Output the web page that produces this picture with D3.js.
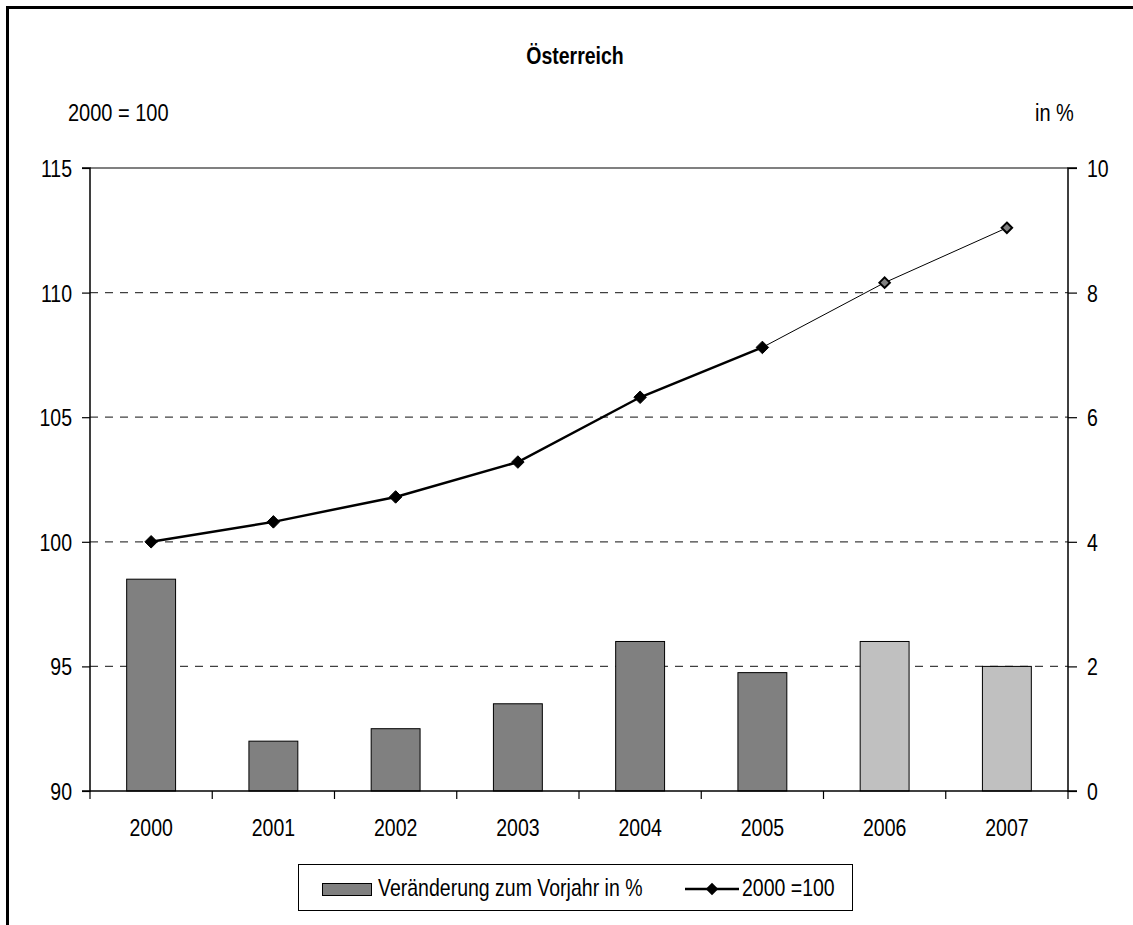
<!DOCTYPE html>
<html>
<head>
<meta charset="utf-8">
<script src="https://cdn.jsdelivr.net/npm/d3@7"></script>
<style>
  html, body { margin: 0; padding: 0; background: #fff; }
  svg { display: block; }
  text { font-family: "Liberation Sans", Arial, sans-serif; fill: #000; }
</style>
</head>
<body>
<svg id="chart" width="1133" height="925"></svg>
<script>
// Jahre
const years = ["2000", "2001", "2002", "2003", "2004", "2005", "2006", "2007"];
// Veränderung zum Vorjahr in %
const changePct = [3.4, 0.8, 1.0, 1.4, 2.4, 1.9, 2.4, 2.0];
// Index 2000 = 100
const indexValues = [100.0, 100.8, 101.8, 103.2, 105.8, 107.8, 110.4, 112.6];
// Prognosejahre (hellere Balken, dünnere Linie)
const forecast = [false, false, false, false, false, false, true, true];
const leftTicks = [90, 95, 100, 105, 110, 115];
const rightTicks = [0, 2, 4, 6, 8, 10];
const gridValues = [95, 100, 105, 110];

const svg = d3.select("#chart");
const W = 1133, H = 925;
const plot = { left: 90, right: 1068, top: 168, bottom: 791 };
const TEXT_SY = 1.22;   // vertically stretched lettering

// outer frame: top and left edges only
svg.append("path")
  .attr("d", `M7.5,${H} V7.5 H${W}`)
  .attr("fill", "none").attr("stroke", "#000").attr("stroke-width", 3);

const x = d3.scaleBand().domain(years).range([plot.left, plot.right]).padding(0);
const yL = d3.scaleLinear().domain([90, 115]).range([plot.bottom, plot.top]);
const yR = d3.scaleLinear().domain([0, 10]).range([plot.bottom, plot.top]);

function stretchedText(sel) {
  sel.each(function () {
    const t = d3.select(this);
    const tx = +t.attr("x") || 0, ty = +t.attr("y") || 0;
    t.attr("x", 0).attr("y", 0)
      .attr("transform", `translate(${tx},${ty}) scale(1,${TEXT_SY})`);
  });
}

// title and axis captions
svg.append("text").attr("x", 575).attr("y", 64).attr("text-anchor", "middle")
  .attr("font-size", 19.5).attr("font-weight", "bold").text("Österreich")
  .call(stretchedText);
svg.append("text").attr("x", 68).attr("y", 121).attr("font-size", 20)
  .text("2000 = 100").call(stretchedText);
svg.append("text").attr("x", 1035).attr("y", 121).attr("font-size", 20)
  .text("in %").call(stretchedText);

// dashed gridlines
svg.append("g").selectAll("line").data(gridValues).join("line")
  .attr("x1", plot.left).attr("x2", plot.right)
  .attr("y1", d => yL(d)).attr("y2", d => yL(d))
  .attr("stroke", "#404040").attr("stroke-width", 1.3)
  .attr("stroke-dasharray", "8,7");

// plot top edge
svg.append("line")
  .attr("x1", plot.left).attr("x2", plot.right)
  .attr("y1", yL(115)).attr("y2", yL(115))
  .attr("stroke", "#808080").attr("stroke-width", 2);

// bars (right axis)
const barW = x.bandwidth() * 0.4;
svg.append("g").selectAll("rect").data(years).join("rect")
  .attr("x", d => x(d) + (x.bandwidth() - barW) / 2)
  .attr("width", barW)
  .attr("y", (d, i) => yR(changePct[i]))
  .attr("height", (d, i) => yR(0) - yR(changePct[i]))
  .attr("fill", (d, i) => forecast[i] ? "#c0c0c0" : "#808080")
  .attr("stroke", "#000").attr("stroke-width", 1);

// left axis
const axL = svg.append("g").attr("transform", `translate(${plot.left},0)`)
  .call(d3.axisLeft(yL).tickValues(leftTicks).tickSize(8).tickPadding(10));
// right axis
const axR = svg.append("g").attr("transform", `translate(${plot.right},0)`)
  .call(d3.axisRight(yR).tickValues(rightTicks).tickSize(9).tickPadding(10));
// category axis
const axB = svg.append("g").attr("transform", `translate(0,${plot.bottom})`)
  .call(d3.axisBottom(x).tickSize(0).tickPadding(0));

[axL, axR, axB].forEach(ax => {
  ax.select(".domain").attr("stroke", "#000").attr("stroke-width", 1.5);
  ax.selectAll(".tick line").attr("stroke", "#000").attr("stroke-width", 1.2);
  ax.selectAll(".tick text")
    .attr("font-family", "Liberation Sans, Arial, sans-serif")
    .attr("font-size", 19.5).attr("fill", "#000");
});
axL.select(".domain").attr("d", `M-8,${plot.top}H0V${plot.bottom}H-8`);
axR.select(".domain").attr("d", `M9,${plot.top}H0V${plot.bottom}H9`);
axB.select(".domain").attr("d", `M${plot.left},0H${plot.right}`);

// stretch tick labels vertically around their centre
[axL, axR].forEach(ax => ax.selectAll(".tick text").each(function () {
  const t = d3.select(this);
  const tx = +t.attr("x");
  t.attr("x", 0).attr("dy", "0.36em")
    .attr("transform", `translate(${tx},0) scale(1,${TEXT_SY})`);
}));
axB.selectAll(".tick text").each(function () {
  d3.select(this).attr("y", 0).attr("dy", "0.71em")
    .attr("transform", `translate(0,28) scale(1,${TEXT_SY})`);
});

// category boundary ticks
const bounds = years.map(d => x(d)).concat([plot.right]);
svg.append("g").selectAll("line").data(bounds).join("line")
  .attr("x1", d => d).attr("x2", d => d)
  .attr("y1", plot.bottom).attr("y2", plot.bottom + 8)
  .attr("stroke", "#000").attr("stroke-width", 1.2);

// index line: thick for observed years, thin for forecast
const pts = years.map((d, i) => ({ x: x(d) + x.bandwidth() / 2, y: yL(indexValues[i]), f: forecast[i] }));
const line = d3.line().x(d => d.x).y(d => d.y);
const lastObs = forecast.indexOf(true) - 1;
svg.append("path").datum(pts.slice(0, lastObs + 1)).attr("d", line)
  .attr("fill", "none").attr("stroke", "#000").attr("stroke-width", 2.5);
svg.append("path").datum(pts.slice(lastObs)).attr("d", line)
  .attr("fill", "none").attr("stroke", "#000").attr("stroke-width", 1);

const diamond = d3.symbol().type(d3.symbolDiamond2);
svg.append("g").selectAll("path").data(pts).join("path")
  .attr("transform", d => `translate(${d.x},${d.y})`)
  .attr("d", d => diamond.size(d.f ? 70 : 100)())
  .attr("fill", d => d.f ? "#808080" : "#000")
  .attr("stroke", "#000").attr("stroke-width", d => d.f ? 2 : 1);

// legend
const lg = svg.append("g");
lg.append("rect").attr("x", 298.5).attr("y", 864.5).attr("width", 554).attr("height", 46)
  .attr("fill", "#fff").attr("stroke", "#000").attr("stroke-width", 1);
lg.append("rect").attr("x", 322.5).attr("y", 883.5).attr("width", 49).attr("height", 12)
  .attr("fill", "#808080").attr("stroke", "#000").attr("stroke-width", 1);
lg.append("text").attr("x", 378).attr("y", 896).attr("font-size", 19.5)
  .text("Veränderung zum Vorjahr in %").call(stretchedText);
lg.append("line").attr("x1", 685).attr("x2", 739).attr("y1", 889).attr("y2", 889)
  .attr("stroke", "#000").attr("stroke-width", 2.5);
lg.append("path").attr("transform", "translate(712,889)")
  .attr("d", diamond.size(100)()).attr("fill", "#000");
lg.append("text").attr("x", 742).attr("y", 896).attr("font-size", 19.5)
  .text("2000 =100").call(stretchedText);
</script>
</body>
</html>
